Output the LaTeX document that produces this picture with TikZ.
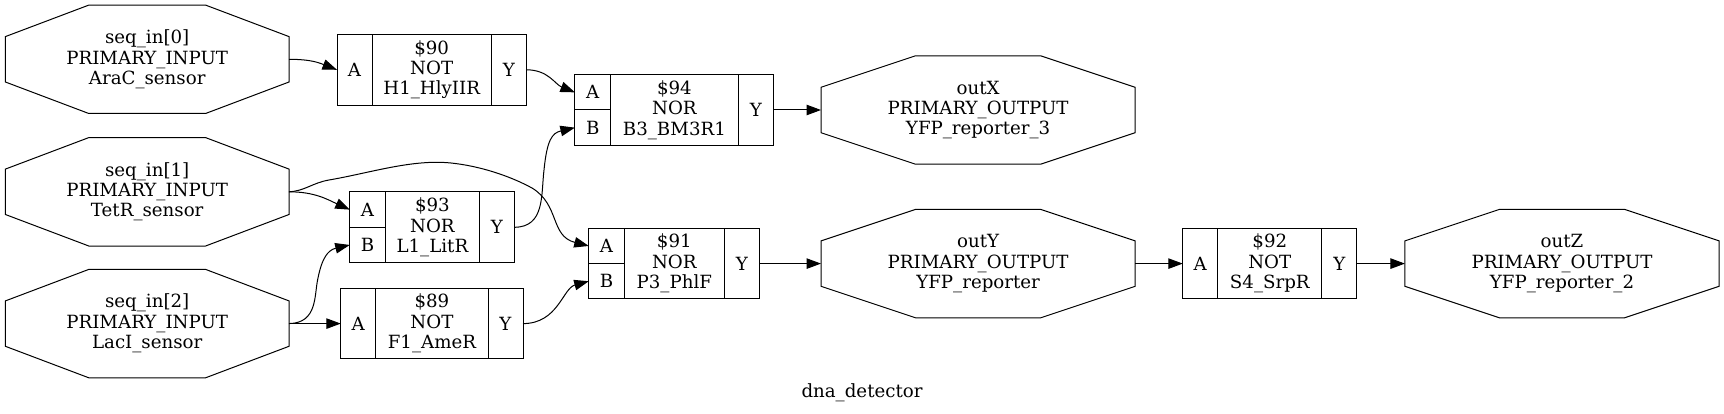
\documentclass[tikz,border=0pt]{standalone}
\usepackage{fontspec}
\setmainfont{DejaVu Serif}
\usetikzlibrary{arrows.meta,calc,positioning}
\tikzset{
  label text/.style={font=\fontsize{18.2}{20.4}\selectfont,align=center,inner sep=0pt,outer sep=0pt},
  octa/.style 2 args={label text,minimum height=108.4pt,minimum width=#1,
    append after command={
      ($(\tikzlastnode.north west)+(#2,0)$) -- ($(\tikzlastnode.north east)+(-#2,0)$)
      -- ($(\tikzlastnode.north east)+(0,31.5)$) -- ($(\tikzlastnode.south east)+(0,-31.5)$)
      -- ($(\tikzlastnode.south east)+(-#2,0)$) -- ($(\tikzlastnode.south west)+(#2,0)$)
      -- ($(\tikzlastnode.south west)+(0,-31.5)$) -- ($(\tikzlastnode.north west)+(0,31.5)$) -- cycle}},
  cell/.style={label text,draw,line width=1pt,minimum height=70.6pt},
  halfcell/.style={label text,draw,line width=1pt,minimum height=35.3pt,minimum width=35.6pt},
  wire/.style={line width=1pt,-{Triangle[length=14.5pt,width=10.5pt]}}
}
\begin{document}
\begin{tikzpicture}[x=1pt,y=-1pt]
  \useasboundingbox (0,0) rectangle (1724,414);

  % Draw the inputs
  \draw[line width=1pt] node[octa={283.6pt}{83.4}] (in0) at (147.2,59.3) {seq\_in[0]\\PRIMARY\_INPUT\\AraC\_sensor};
  \draw[line width=1pt] node[octa={283.6pt}{83.4}] (in1) at (147.2,191.8) {seq\_in[1]\\PRIMARY\_INPUT\\TetR\_sensor};
  \draw[line width=1pt] node[octa={283.6pt}{83.4}] (in2) at (147.2,323.6) {seq\_in[2]\\PRIMARY\_INPUT\\LacI\_sensor};

  % Draw the outputs
  \draw[line width=1pt] node[octa={314.2pt}{94.5}] (outx) at (978.1,110) {outX\\PRIMARY\_OUTPUT\\YFP\_reporter\_3};
  \draw[line width=1pt] node[octa={314.2pt}{94.5}] (outy) at (978.1,263.6) {outY\\PRIMARY\_OUTPUT\\YFP\_reporter};
  \draw[line width=1pt] node[octa={314.2pt}{94.5}] (outz) at (1562,263.6) {outZ\\PRIMARY\_OUTPUT\\YFP\_reporter\_2};

  % Draw the gates
  \node[cell,minimum width=119.4pt] (g90) at (431.7,69.8) {\$90\\NOT\\H1\_HlyIIR};
  \node[cell,minimum width=35pt,left=0pt of g90] (g90a) {A};
  \node[cell,minimum width=35pt,right=0pt of g90] (g90y) {Y};

  \node[cell,minimum width=94.1pt] (g93) at (432.4,227.3) {\$93\\NOR\\L1\_LitR};
  \node[halfcell,anchor=north east] (g93a) at (g93.north west) {A};
  \node[halfcell,anchor=south east] (g93b) at (g93.south west) {B};
  \node[cell,minimum width=35pt,right=0pt of g93] (g93y) {Y};

  \node[cell,minimum width=112.2pt] (g89) at (431.9,323.6) {\$89\\NOT\\F1\_AmeR};
  \node[cell,minimum width=35pt,left=0pt of g89] (g89a) {A};
  \node[cell,minimum width=35pt,right=0pt of g89] (g89y) {Y};

  \node[cell,minimum width=127.8pt] (g94) at (674.4,110) {\$94\\NOR\\B3\_BM3R1};
  \node[halfcell,anchor=north east] (g94a) at (g94.north west) {A};
  \node[halfcell,anchor=south east] (g94b) at (g94.south west) {B};
  \node[cell,minimum width=35pt,right=0pt of g94] (g94y) {Y};

  \node[cell,minimum width=99.9pt] (g91) at (674.3,263.6) {\$91\\NOR\\P3\_PhlF};
  \node[halfcell,anchor=north east] (g91a) at (g91.north west) {A};
  \node[halfcell,anchor=south east] (g91b) at (g91.south west) {B};
  \node[cell,minimum width=35pt,right=0pt of g91] (g91y) {Y};

  \node[cell,minimum width=104.1pt] (g92) at (1269.8,263.6) {\$92\\NOT\\S4\_SrpR};
  \node[cell,minimum width=35pt,left=0pt of g92] (g92a) {A};
  \node[cell,minimum width=35pt,right=0pt of g92] (g92y) {Y};

  % Draw the wires
  \draw[wire] (in0.east) .. controls +(22,0) and +(-18,-7) .. (g90a.west);
  \draw[wire] (g90y.east) .. controls +(22,0) and +(-20,-8) .. (g94a.west);
  \draw[wire] (in1.east) .. controls +(26,0) and +(-22,-10) .. (g93a.west);
  \draw[wire] (in1.east) .. controls (305,191) and (312,183) .. (329,180)
    .. controls (370,173) and (412,159) .. (451,163)
    .. controls (480,166) and (510,176) .. (532,188)
    .. controls (560,205) and (550,236) .. (g91a.west);
  \draw[wire] (g93y.east) .. controls (545,227) and (541,195) .. (544,170)
    .. controls (547,140) and (552,133) .. (g94b.west);
  \draw[wire] (in2.east) .. controls (318,323) and (314,295) .. (318,278)
    .. controls (322,258) and (328,250) .. (g93b.west);
  \draw[wire] (in2.east) -- (g89a.west);
  \draw[wire] (g89y.east) .. controls +(35,0) and +(-26,7) .. (g91b.west);
  \draw[wire] (g94y.east) -- (outx.west);
  \draw[wire] (g91y.east) -- (outy.west);
  \draw[wire] (outy.east) -- (g92a.west);
  \draw[wire] (g92y.east) -- (outz.west);

  % Draw the title
  \node[label text] (title) at (862,393) {dna\_detector};
\end{tikzpicture}
\end{document}
